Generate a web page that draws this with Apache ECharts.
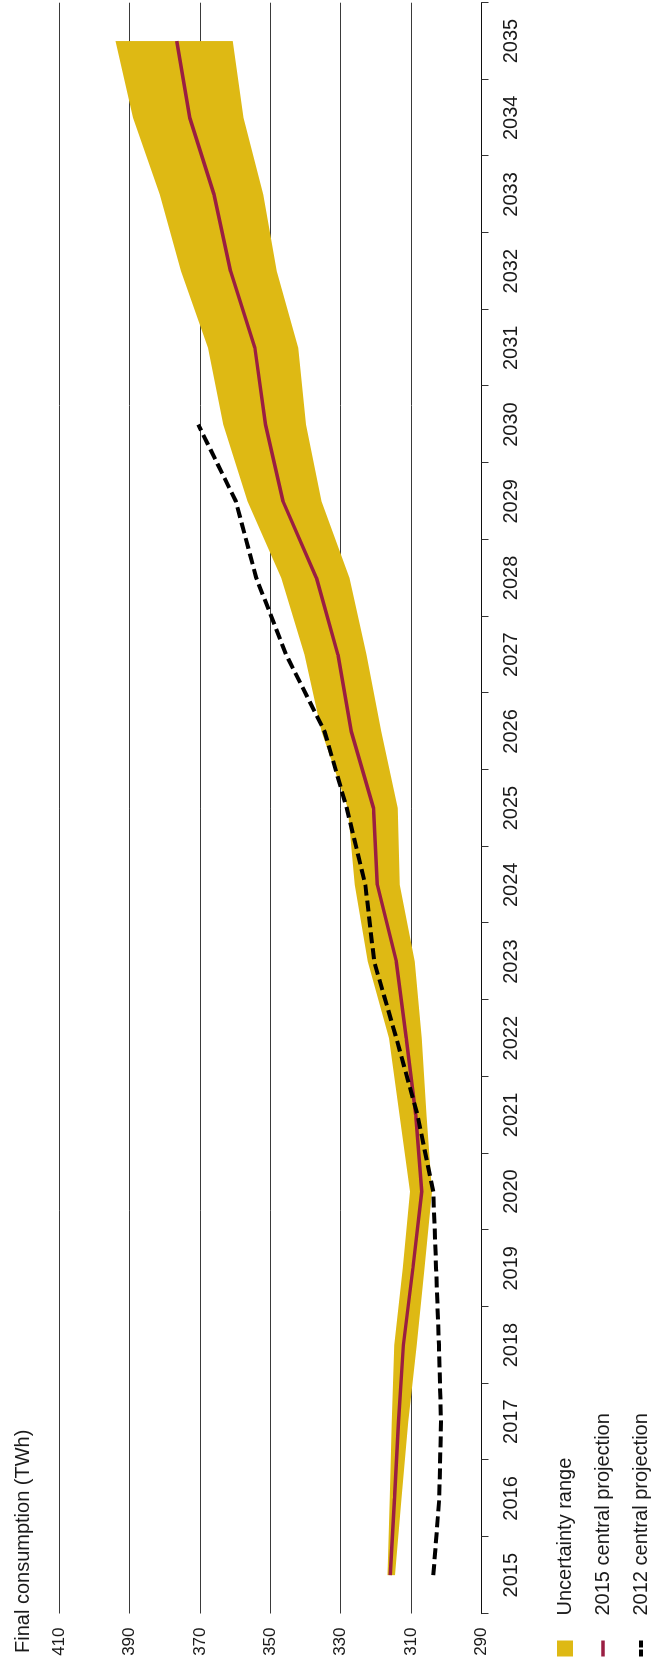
<!DOCTYPE html>
<html>
<head>
<meta charset="utf-8">
<script src="https://cdn.jsdelivr.net/npm/echarts@6/dist/echarts.min.js"></script>
<style>
  html, body { margin: 0; padding: 0; background: #ffffff; overflow: hidden; }
  #page { position: absolute; left: 0; top: 0; width: 653px; height: 1665px; overflow: hidden; background: #fff; }
  #chart { position: absolute; left: 0; top: 0; width: 1665px; height: 653px;
           transform-origin: 0 0; transform: translate(0px, 1665px) rotate(-90deg); }
</style>
</head>
<body>
<div id="page"><div id="chart"></div></div>
<script>
// ---- Data ----
const years = ['2015','2016','2017','2018','2019','2020','2021','2022','2023','2024','2025',
               '2026','2027','2028','2029','2030','2031','2032','2033','2034','2035'];
const rangeUpper = [316.7, 316.1, 315.5, 314.8, 312.4, 310.3, 313.3, 316.3, 322.3, 326.0, 328.0,
                    335.5, 340.3, 346.9, 356.5, 363.4, 367.7, 375.4, 381.4, 389.0, 394.0];
const rangeLower = [314.6, 312.7, 310.8, 308.4, 306.2, 304.1, 305.6, 307.0, 309.0, 313.2, 313.8,
                    318.5, 322.7, 327.5, 335.5, 339.9, 342.1, 348.2, 352.0, 357.6, 360.7];
const central2015 = [315.9, 314.7, 313.6, 312.2, 309.5, 307.0, 308.7, 311.4, 314.2, 319.6, 320.7,
                     327.0, 330.8, 336.9, 346.4, 351.4, 354.4, 361.3, 366.0, 372.9, 376.6];
const central2012 = [303.7, 302.0, 301.5, 302.1, 302.9, 303.7, 308.2, 314.2, 320.5, 323.0, 328.3,
                     334.6, 345.5, 354.0, 359.8, 370.5, null, null, null, null, null];
const valueMin = 290, valueMax = 410, valueStep = 20;
const titleText = 'Final consumption (TWh)';
const seriesNames = ['Uncertainty range', '2015 central projection', '2012 central projection'];

// ---- Style ----
const FONT = 'Liberation Sans, Arial, sans-serif';
const TXT = '#1a1a1a';
const YELLOW = '#DEB914';
const RED = '#9A1E42';

const rangeWidth = rangeUpper.map((u, i) => +(u - rangeLower[i]).toFixed(2));

const chart = echarts.init(document.getElementById('chart'), null, { renderer: 'canvas' });
chart.setOption({
  animation: false,
  backgroundColor: '#ffffff',
  title: {
    text: titleText, left: 7, top: 8,
    textStyle: { fontFamily: FONT, fontSize: 20, fontWeight: 'normal', color: TXT }
  },
  legend: {
    orient: 'vertical', left: 6.5, top: 555, padding: 0,
    itemWidth: 16, itemHeight: 16, itemGap: 18,
    textStyle: { fontFamily: FONT, fontSize: 20, color: TXT, padding: [0, 0, 0, 20] },
    data: [
      { name: seriesNames[0], icon: 'rect' },
      { name: seriesNames[1], itemStyle: { opacity: 0 }, lineStyle: { width: 3.5, color: RED } },
      { name: seriesNames[2], itemStyle: { opacity: 0 }, lineStyle: { width: 4, color: '#000', type: [7, 2] } }
    ]
  },
  grid: { left: 51.5, right: 2.7, top: 59.2, bottom: 171.5, containLabel: false },
  xAxis: {
    type: 'category', data: years, boundaryGap: true,
    axisLine: { show: true, lineStyle: { color: '#111', width: 1.2 } },
    axisTick: { show: true, length: 7, interval: 0, lineStyle: { color: '#333', width: 1 } },
    axisLabel: { interval: 0, fontFamily: FONT, fontSize: 20, color: TXT, margin: 20 },
    splitLine: { show: false }, z: 5
  },
  yAxis: {
    type: 'value', min: valueMin, max: valueMax, interval: valueStep,
    axisLine: { show: false }, axisTick: { show: false },
    axisLabel: { fontFamily: FONT, fontSize: 17, color: TXT, margin: 14 },
    splitLine: { show: true, lineStyle: { color: '#3a3a3a', width: 1 } }
  },
  series: [
    {
      name: 'rangeBase', type: 'line', stack: 'band', data: rangeLower,
      symbol: 'none', lineStyle: { opacity: 0, width: 0 }, silent: true, z: 1
    },
    {
      name: seriesNames[0], type: 'line', stack: 'band', data: rangeWidth,
      symbol: 'none', lineStyle: { opacity: 0, width: 0 },
      itemStyle: { color: YELLOW },
      areaStyle: { color: YELLOW, opacity: 1 }, z: 2
    },
    {
      name: seriesNames[1], type: 'line', data: central2015,
      symbol: 'none', itemStyle: { color: RED },
      lineStyle: { color: RED, width: 3.5 }, z: 3
    },
    {
      name: seriesNames[2], type: 'line', data: central2012,
      symbol: 'none', connectNulls: false, itemStyle: { color: '#000' },
      lineStyle: { color: '#000', width: 4, type: [11, 5] }, z: 4
    }
  ]
});
</script>
</body>
</html>
